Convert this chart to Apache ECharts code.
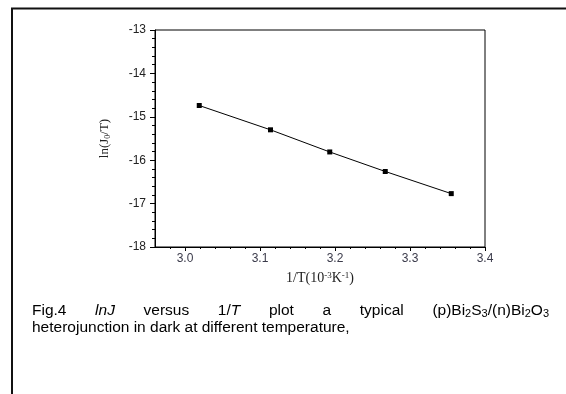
<!DOCTYPE html>
<html>
<head>
<meta charset="utf-8">
<script src="https://cdn.jsdelivr.net/npm/echarts@6/dist/echarts.min.js"></script>
<style>
html,body{margin:0;padding:0;background:#fff;}
#main{width:566px;height:394px;}
</style>
</head>
<body>
<div id="main"></div>
<script>
// 1/T (10^-3 K^-1) and ln(J0/T)
var invT=[3.019,3.114,3.193,3.267,3.355]
var lnJT=[-14.74,-15.30,-15.81,-16.26,-16.77]
var xMajor=[3.0,3.1,3.2,3.3,3.4]
var xMinor=[2.98,3.02,3.04,3.06,3.08,3.12,3.14,3.16,3.18,3.22,3.24,3.26,3.28,3.32,3.34,3.36,3.38]

var pts=[]
for(var i=0;i<invT.length;i++){
	pts[i]=[invT[i],lnJT[i]]
}

var sans='Arial, "Liberation Sans", sans-serif'
var serif='"Times New Roman", "Liberation Serif", serif'

// caption words, each a list of [text, styleName]
var capRich={
	n:{fontFamily:sans,fontSize:15.5,color:'#000',lineHeight:17},
	i:{fontFamily:sans,fontSize:15.5,fontStyle:'italic',color:'#000',lineHeight:17},
	s:{fontFamily:sans,fontSize:11,color:'#000',lineHeight:8,verticalAlign:'bottom'}
}
var line1=[
	[['Fig.4','n']],
	[['lnJ','i']],
	[['versus','n']],
	[['1/','n'],['T','i']],
	[['plot','n']],
	[['a','n']],
	[['typical','n']],
	[['(p)Bi','n'],['2','s'],['S','n'],['3','s'],['/(n)Bi','n'],['2','s'],['O','n'],['3','s']]
]
var line2='heterojunction in dark at different temperature,'

var cv=document.createElement('canvas').getContext('2d')
function fontOf(k){
	var r=capRich[k]
	return (r.fontStyle?r.fontStyle+' ':'')+r.fontSize+'px '+r.fontFamily
}
function wordWidth(w){
	var s=0
	for(var j=0;j<w.length;j++){cv.font=fontOf(w[j][1]);s+=cv.measureText(w[j][0]).width}
	return s
}
function wordRich(w){
	var s=''
	for(var j=0;j<w.length;j++){s+='{'+w[j][1]+'|'+w[j][0]+'}'}
	return s
}
// justify first line between x0 and x1
var x0=32,x1=549
var total=0
for(var i=0;i<line1.length;i++){total+=wordWidth(line1[i])}
var gap=(x1-x0-total)/(line1.length-1)
var graphics=[]
var cx=x0
for(var i=0;i<line1.length;i++){
	graphics.push({type:'text',x:cx,y:311,style:{text:wordRich(line1[i]),rich:capRich,verticalAlign:'middle'}})
	cx+=wordWidth(line1[i])+gap
}
graphics.push({type:'text',x:x0,y:328,style:{text:line2,font:'15.5px '+sans,fill:'#000',verticalAlign:'middle'}})
// outer frame (top and left)
graphics.push({type:'line',shape:{x1:11,y1:8.5,x2:566,y2:8.5},style:{stroke:'#111',lineWidth:2}})
graphics.push({type:'line',shape:{x1:12,y1:8,x2:12,y2:394},style:{stroke:'#111',lineWidth:2}})

var mychart=echarts.init(document.getElementById('main'))
var option={
	animation:false,
	backgroundColor:'#fff',
	grid:{
		left:155,top:30,width:330,height:217,
		show:true,borderColor:'#000',borderWidth:1
	},
	xAxis:[{
		type:'value',
		min:2.96,max:3.4,
		name:'{n|1/T(10}{p|-3}{n|K}{p|-1}{n|)}',
		nameLocation:'middle',
		nameGap:24,
		nameTextStyle:{
			rich:{
				n:{fontFamily:serif,fontSize:14,color:'#222',lineHeight:15},
				p:{fontFamily:serif,fontSize:9,color:'#222',lineHeight:8,verticalAlign:'top'}
			}
		},
		axisLine:{show:true,lineStyle:{color:'#000',width:1}},
		axisTick:{show:true,inside:false,length:4,customValues:xMajor,lineStyle:{color:'#000'}},
		axisLabel:{customValues:xMajor,margin:6,fontFamily:sans,fontSize:12,color:'#3a3a4a',
			formatter:function(v){return v.toFixed(1)}},
		splitLine:{show:false}
	},{
		type:'value',
		min:2.96,max:3.4,
		position:'bottom',
		axisLine:{show:false},
		axisTick:{show:true,inside:false,length:2,customValues:xMinor,lineStyle:{color:'#000'}},
		axisLabel:{show:false},
		splitLine:{show:false}
	}],
	yAxis:{
		type:'value',
		min:-18,max:-13,interval:1,
		name:'{n|ln(J}{s|0}{n|/T)}',
		nameLocation:'middle',
		nameRotate:90,
		nameGap:43,
		nameTextStyle:{
			rich:{
				n:{fontFamily:serif,fontSize:13,color:'#222',lineHeight:15},
				s:{fontFamily:serif,fontSize:8,color:'#222',lineHeight:7,verticalAlign:'bottom'}
			}
		},
		axisLine:{show:true,lineStyle:{color:'#000',width:1}},
		axisTick:{show:true,inside:false,length:5,lineStyle:{color:'#000'}},
		minorTick:{show:true,splitNumber:5,length:3,lineStyle:{color:'#000'}},
		axisLabel:{margin:9,fontFamily:sans,fontSize:12,color:'#222'},
		splitLine:{show:false}
	},
	series:[{
		type:'line',
		data:pts,
		symbol:'rect',
		symbolSize:5,
		itemStyle:{color:'#000'},
		lineStyle:{color:'#000',width:1}
	}],
	graphic:graphics
}
mychart.setOption(option)
</script>
</body>
</html>
